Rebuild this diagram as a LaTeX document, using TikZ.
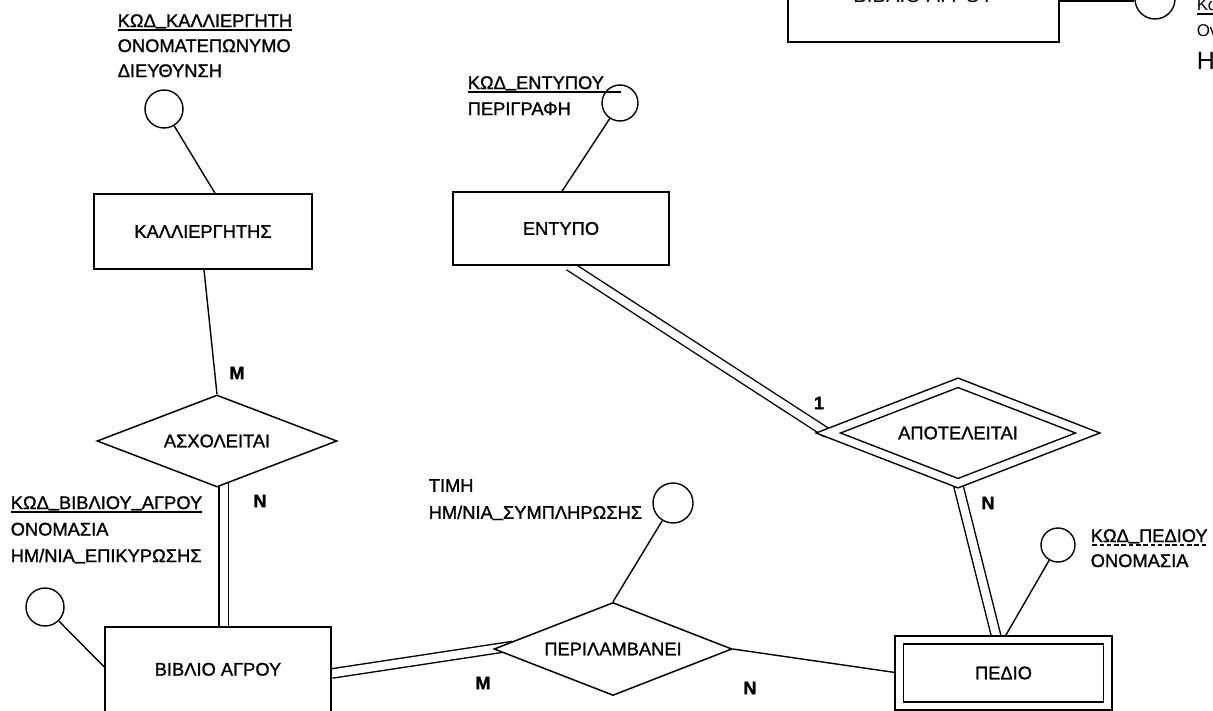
\documentclass[tikz,border=0pt]{standalone}
\usepackage{fontspec}
\setmainfont{Liberation Sans}[FakeBold=1.2]
\newfontfamily\thinfont{Liberation Sans}
\usetikzlibrary{shapes.geometric,calc,backgrounds}

% key attribute: text with a solid underline (optionally extended)
\newsavebox\keybox
\newcommand\keyattr[2][0pt]{\sbox\keybox{#2}\rlap{\rule[-3.8pt]{\dimexpr\wd\keybox+#1\relax}{1.5pt}}\usebox\keybox}
% partial key: dashed underline
\newcommand\dashkey[1]{\sbox\keybox{#1}\rlap{\raisebox{-3.8pt}{\hbox to \wd\keybox{\xleaders\hbox to 7pt{\hss\rule{4.6pt}{1.5pt}\hss}\hfill}}}\usebox\keybox}
% underscore sitting on the baseline
\newcommand\us{\raisebox{2.4pt}{\_}}
\newcommand\erfont{\fontsize{18.3}{22}\selectfont}

\begin{document}
\begin{tikzpicture}[x=1pt,y=-1pt,line width=1.5pt,
  entity/.style={draw, rectangle, fill=white, inner sep=0pt, font=\erfont},
  rel/.style={draw, diamond, fill=white, inner sep=0pt, font=\erfont},
  attr/.style={draw, circle, fill=white, inner sep=0pt, line width=1.4pt, minimum size=#1},
  attr/.default=38,
  attrs/.style={align=left, anchor=north west, inner sep=0pt},
  card/.style={font=\fontsize{18}{20}\selectfont\bfseries, inner sep=0pt},
  conn/.style={draw, line width=1.4pt},
  dbl/.style={draw, double, double distance=8pt, line width=1.4pt}]
\useasboundingbox (0,0) rectangle (1213,711);
\clip (0,0) rectangle (1213,711);

% entities
\node[entity, minimum width=218, minimum height=75] (kal) at (203,231.5) {ΚΑΛΛΙΕΡΓΗΤΗΣ};
\node[entity, minimum width=216, minimum height=73] (ent) at (561,228.5) {ΕΝΤΥΠΟ};
\node[entity, minimum width=226, minimum height=93] (biv) at (218,673.5) {\raisebox{8.5pt}{ΒΙΒΛΙΟ ΑΓΡΟΥ}};
\node[entity, minimum width=271, minimum height=92, font=\thinfont\fontsize{20.3}{24}\selectfont] (bivtop) at (923.5,-4) {\raisebox{-12pt}{ΒΙΒΛΙΟ ΑΓΡΟΥ}};
\node[entity, double, double distance=6.7pt, minimum width=208.5, minimum height=66] (ped) at (1003.5,673) {ΠΕΔΙΟ};

% relationships
\node[rel, aspect=2.6, minimum width=240, minimum height=92] (asx) at (217,441) {ΑΣΧΟΛΕΙΤΑΙ};
\node[rel, aspect=2.56, minimum width=238, minimum height=93] (per) at (613,649) {ΠΕΡΙΛΑΜΒΑΝΕΙ};
\node[rel, double, double distance=7.2pt, aspect=2.57, minimum width=260, minimum height=101] (apo) at (958,433) {ΑΠΟΤΕΛΕΙΤΑΙ};

% attribute circles
\node[attr=38] (c_kal) at (164,109) {};
\node[attr=36] (c_ent) at (620,103) {};
\node[attr=38] (c_biv) at (45,607) {};
\node[attr=40] (c_per) at (673,503) {};
\node[attr=34] (c_ped) at (1058,545) {};
\node[attr=40] (c_top) at (1155,-1) {};

% attribute lists
\node[attrs, font=\fontsize{18.3}{25}\selectfont] (a_kal) at (117,13.5)
  {\keyattr{ΚΩΔ\us ΚΑΛΛΙΕΡΓΗΤΗ}\\ΟΝΟΜΑΤΕΠΩΝΥΜΟ\\ΔΙΕΥΘΥΝΣΗ};
\node[attrs, font=\fontsize{18.3}{26}\selectfont] (a_ent) at (467,75.5)
  {\keyattr[17pt]{ΚΩΔ\us ΕΝΤΥΠΟΥ}\\ΠΕΡΙΓΡΑΦΗ};
\node[attrs, font=\fontsize{18.3}{26.5}\selectfont] (a_biv) at (10,495.5)
  {\keyattr{ΚΩΔ\us ΒΙΒΛΙΟΥ\us ΑΓΡΟΥ}\\ΟΝΟΜΑΣΙΑ\\ΗΜ/ΝΙΑ\us ΕΠΙΚΥΡΩΣΗΣ};
\node[attrs, font=\fontsize{18.3}{27}\selectfont] (a_per) at (428,478.5)
  {ΤΙΜΗ\\ΗΜ/ΝΙΑ\us ΣΥΜΠΛΗΡΩΣΗΣ};
\node[attrs, font=\fontsize{18.3}{25}\selectfont] (a_ped) at (1090,528.5)
  {\dashkey{ΚΩΔ\us ΠΕΔΙΟΥ}\\ΟΝΟΜΑΣΙΑ};
\node[anchor=base west, inner sep=0pt, font=\thinfont\fontsize{17}{18}\selectfont] (t_key) at (1196,11) {\keyattr{Κωδ\_Βιβλίου}};
\node[anchor=base west, inner sep=0pt, font=\thinfont\fontsize{17}{18}\selectfont] (t_name) at (1196,37) {Ονομασία};
\node[anchor=base west, inner sep=0pt, font=\thinfont\fontsize{25}{28}\selectfont] (t_date) at (1196,70) {Ημερομηνία};

% cardinalities
\node[card] (k1) at (237,373) {M};
\node[card] (k2) at (260,501) {N};
\node[card] (k3) at (483,683) {M};
\node[card] (k4) at (750,688) {N};
\node[card] (k5) at (819,403) {1};
\node[card] (k6) at (988,503) {N};

% connectors
\begin{scope}[on background layer]
  \draw[conn] (c_kal) -- ([xshift=12pt]kal.north);
  \draw[conn] ([xshift=1pt]kal.south) -- (asx.north);
  \draw[dbl] ($(asx.center)+(6.5,0)$) -- ($(biv.north)+(5.5,0)$);
  \draw[conn] (c_biv) -- ($(biv.west)+(0,-6.5)$);
  \draw[dbl] (biv.east) -- ($(biv.east)!1.12!(per.west)$);
  \draw[conn] (per.east) -- (ped.west);
  \draw[conn] (per.north) -- (c_per);
  \draw[conn] (c_ent) -- ([xshift=1pt]ent.north);
  \draw[dbl] ([xshift=8pt]ent.south) -- (apo.west);
  \draw[dbl] (apo.south) -- ([xshift=-6.5pt]ped.north);
  \draw[conn] (c_ped) -- (ped.north);
  \draw[conn] ($(bivtop.east)+(0,5.2)$) -- ($(c_top.west)+(0,2.2)$);
\end{scope}
\end{tikzpicture}
\end{document}
